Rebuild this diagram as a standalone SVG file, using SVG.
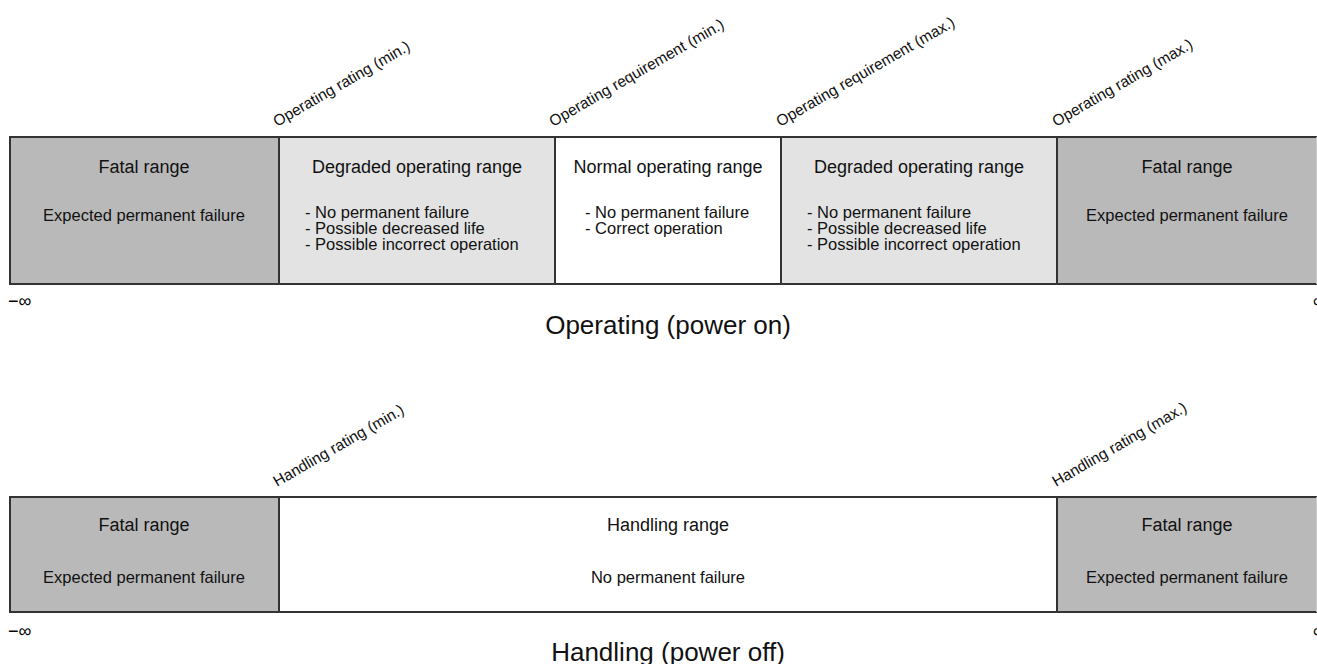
<svg xmlns="http://www.w3.org/2000/svg" width="1317" height="664" viewBox="0 0 1317 664">
<style>
text{font-family:"Liberation Sans",Arial,sans-serif;fill:#111}
.box{stroke:#333;stroke-width:2}
.fatal{fill:#b9b9b9}
.deg{fill:#e3e3e3}
.norm{fill:#fff}
.h{font-size:18px;text-anchor:middle}
.b{font-size:16.5px}
.bc{font-size:16.5px;text-anchor:middle}
.lbl{font-size:15.5px}
.title{font-size:26px;text-anchor:middle}
.inf{font-size:18px;fill:#000}
</style>
<rect width="1317" height="664" fill="#fff"/>
<g id="labels-top">
<text class="lbl" transform="translate(277,127) rotate(-30)">Operating rating (min.)</text>
<text class="lbl" transform="translate(553,127) rotate(-30)">Operating requirement (min.)</text>
<text class="lbl" transform="translate(780,127) rotate(-30)">Operating requirement (max.)</text>
<text class="lbl" transform="translate(1056,127) rotate(-30)">Operating rating (max.)</text>
</g>
<g id="op-fatal-low">
<rect class="box fatal" x="10" y="137" width="269" height="147"/>
<text class="h" x="144" y="173">Fatal range</text>
<text class="bc" x="144" y="221">Expected permanent failure</text>
</g>
<g id="op-degraded-low">
<rect class="box deg" x="279" y="137" width="276" height="147"/>
<text class="h" x="417" y="173">Degraded operating range</text>
<text class="b" x="305" y="218">- No permanent failure</text>
<text class="b" x="305" y="234">- Possible decreased life</text>
<text class="b" x="305" y="250">- Possible incorrect operation</text>
</g>
<g id="op-normal">
<rect class="box norm" x="555" y="137" width="226" height="147"/>
<text class="h" x="668" y="173">Normal operating range</text>
<text class="b" x="585" y="218">- No permanent failure</text>
<text class="b" x="585" y="234">- Correct operation</text>
</g>
<g id="op-degraded-high">
<rect class="box deg" x="781" y="137" width="276" height="147"/>
<text class="h" x="919" y="173">Degraded operating range</text>
<text class="b" x="807" y="218">- No permanent failure</text>
<text class="b" x="807" y="234">- Possible decreased life</text>
<text class="b" x="807" y="250">- Possible incorrect operation</text>
</g>
<g id="op-fatal-high">
<rect class="box fatal" x="1057" y="137" width="262" height="147"/>
<line x1="1316.5" y1="137" x2="1316.5" y2="284" stroke="#ccc" stroke-width="1"/>
<text class="h" x="1187" y="173">Fatal range</text>
<text class="bc" x="1187" y="221">Expected permanent failure</text>
</g>
<g id="op-axis">
<text class="inf" x="8" y="307">−∞</text>
<text class="inf" x="1313" y="307">∞</text>
<text class="title" x="668" y="334">Operating (power on)</text>
</g>
<g id="labels-bottom">
<text class="lbl" transform="translate(277,487) rotate(-30)">Handling rating (min.)</text>
<text class="lbl" transform="translate(1056,487) rotate(-30)">Handling rating (max.)</text>
</g>
<g id="h-fatal-low">
<rect class="box fatal" x="10" y="497" width="269" height="115"/>
<text class="h" x="144" y="531">Fatal range</text>
<text class="bc" x="144" y="583">Expected permanent failure</text>
</g>
<g id="h-range">
<rect class="box norm" x="279" y="497" width="778" height="115"/>
<text class="h" x="668" y="531">Handling range</text>
<text class="bc" x="668" y="583">No permanent failure</text>
</g>
<g id="h-fatal-high">
<rect class="box fatal" x="1057" y="497" width="262" height="115"/>
<line x1="1316.5" y1="497" x2="1316.5" y2="612" stroke="#ccc" stroke-width="1"/>
<text class="h" x="1187" y="531">Fatal range</text>
<text class="bc" x="1187" y="583">Expected permanent failure</text>
</g>
<g id="h-axis">
<text class="inf" x="8" y="637">−∞</text>
<text class="inf" x="1313" y="637">∞</text>
<text class="title" x="668" y="661">Handling (power off)</text>
</g>
<g id="connectors"/>
</svg>
